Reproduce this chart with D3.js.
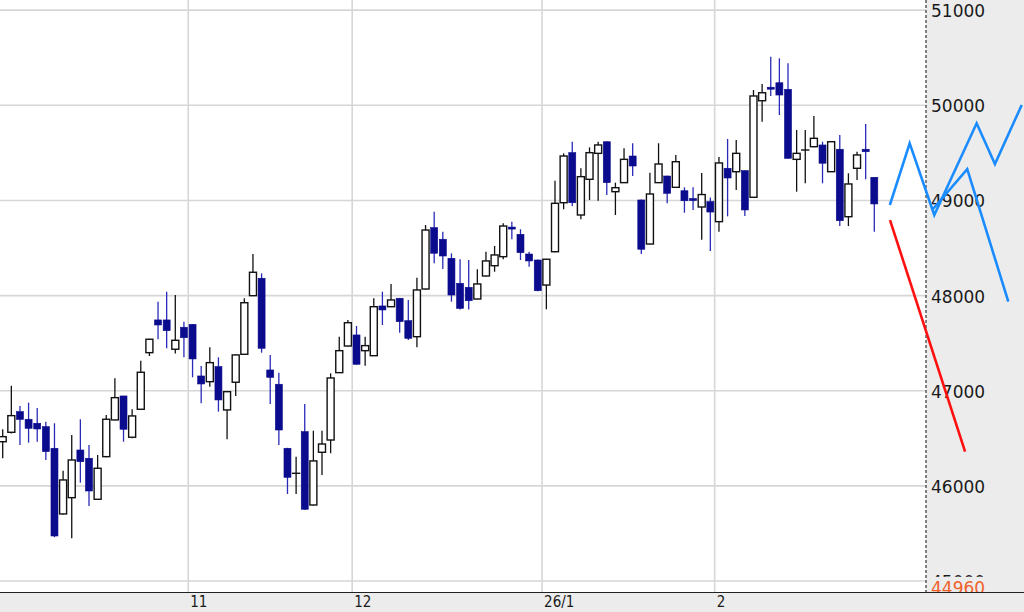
<!DOCTYPE html>
<html><head><meta charset="utf-8">
<script src="https://cdn.jsdelivr.net/npm/d3@7"></script>
<style>html,body{margin:0;padding:0;background:#fff;}svg{display:block;}</style>
</head><body>
<svg id="chart" width="1024" height="612"></svg>
<script>
// OHLC values, one per trading day (index 0..101)
const opens  = [46464,46563,46780,46700,46658,46622,46395,45705,45876,46377,46290,45859,46307,46693,46945,46511,46805,47400,47744,47744,
47436,47667,47698,47155,47095,47253,46798,47089,47383,47999,48182,47218,47068,46395,46132,46570,45799,46353,46482,47190,
47470,47586,47421,47368,47891,47883,47972,47736,47568,48069,48714,48592,48392,48129,48087,47964,48206,48314,48409,48720,
48644,48437,48374,48111,48461,48976,49502,48847,49222,49495,49617,49092,49187,49467,49005,48542,49187,49257,49138,49102,
49020,48931,48987,48777,49338,49302,49313,49033,50048,50190,50237,50168,49432,49530,49565,49583,49302,49538,48829,49338,
49538,49243];
const highs  = [46595,47053,46840,46874,46819,46675,46658,46160,46535,46700,46430,46325,46745,47131,46945,46805,47316,47545,47936,48041,
48006,47726,47700,47260,47457,47351,46995,47380,47972,48437,48234,47376,47190,46400,46307,46861,46580,46580,47183,47568,
47743,47680,47568,47972,48041,48122,47975,47954,48188,48742,48882,48672,48444,48381,48374,48276,48461,48521,48760,48777,
48697,48461,48380,48385,49208,49495,49617,49338,49558,49617,49620,49187,49548,49601,49010,49292,49601,49260,49478,49138,
49138,49288,49031,49457,49646,49635,49315,50161,50224,50511,50494,50441,49740,49740,49888,49617,49620,49688,49285,49512,
49804,49245];
const lows   = [46290,46550,46430,46454,46464,46272,45460,45700,45449,46034,45789,45855,46300,46690,46464,46500,46800,47365,47541,47446,
47391,47351,47141,46868,47042,46780,46490,46945,47380,47995,47400,46861,46430,45915,45915,45750,45795,46114,46343,47185,
47465,47275,47263,47365,47691,47880,47610,47533,47457,48065,48339,48279,47936,47855,47855,47960,48200,48251,48381,48592,
48374,48304,48045,47856,48455,48907,48942,48802,49005,48997,49057,48847,49185,49257,48437,48540,49185,48970,49135,48871,
48900,48587,48469,48672,48833,49110,48837,49030,49828,50098,49898,49440,49092,49180,49560,49180,49300,48731,48731,49215,
49222,48671];
const closes = [46517,46738,46698,46605,46598,46360,45473,46062,46272,46254,45946,46185,46700,46927,46595,46735,47194,47541,47691,47631,
47530,47557,47334,47071,47295,46903,46990,47376,47925,48245,47446,47141,46587,46090,46132,45754,46262,46440,47134,47421,
47715,47278,47474,47883,47849,47954,47726,47551,48059,48689,48445,48416,48006,47866,47946,48122,48364,48427,48731,48700,
48451,48364,48051,48382,48970,49467,48976,49250,49502,49583,49187,49134,49432,49362,48487,49068,49383,49075,49407,48997,
49000,49062,48878,49394,49236,49495,48900,50098,50132,50170,50108,49443,49495,49530,49653,49391,49617,48787,49173,49478,
49512,48963];

// x-axis: index of the first trading day of each month and its label
const monthStartIdx = [22, 41, 63, 83];
const monthLabels   = ["11", "12", "26/1", "2"];

// y-axis ticks and current price marker
const yTicks = [45000, 46000, 47000, 48000, 49000, 50000, 51000];
const lastPrice = 44960;

// forecast paths (day index, price)
const blueAIdx   = [102.8, 105.1, 107.95, 112.86, 114.98, 118.08];
const blueAPrice = [48952, 49601, 48847, 49811, 49383, 50003];
const blueBIdx   = [107.8, 111.77, 116.53];
const blueBPrice = [48910, 49330, 47936];
const redIdx     = [102.82, 111.52];
const redPrice   = [48794, 46360];

const W = 1024, H = 612;
const plotRight = 926, plotBottom = 592;
const svg = d3.select("#chart");

const x = d3.scaleLinear().domain([0, 101]).range([2.7, 874.3]);
const y = d3.scaleLinear().domain([45000, 50000]).range([581, 105.3]);
const step = x(1) - x(0);
const boundary = d => x(d) - step / 2;

// panels
svg.append("rect").attr("x", 0).attr("y", 0).attr("width", W).attr("height", H).attr("fill", "#fff");
svg.append("rect").attr("x", plotRight).attr("y", 0).attr("width", W - plotRight).attr("height", plotBottom).attr("fill", "#ececec");
svg.append("rect").attr("x", 0).attr("y", plotBottom).attr("width", W).attr("height", H - plotBottom).attr("fill", "#ececec");

const defs = svg.append("defs");
defs.append("clipPath").attr("id", "plotclip")
  .append("rect").attr("x", 0).attr("y", 0).attr("width", plotRight).attr("height", plotBottom);
defs.append("clipPath").attr("id", "axisclip")
  .append("rect").attr("x", plotRight).attr("y", 0).attr("width", W - plotRight).attr("height", plotBottom);
defs.append("clipPath").attr("id", "allclip")
  .append("rect").attr("x", 0).attr("y", 0).attr("width", W).attr("height", plotBottom);

const plot = svg.append("g").attr("clip-path", "url(#plotclip)");

// grid
plot.selectAll("line.hg").data(yTicks).enter().append("line")
  .attr("x1", 0).attr("x2", plotRight)
  .attr("y1", d => y(d)).attr("y2", d => y(d))
  .attr("stroke", "#d6d6d6").attr("stroke-width", 1.6);
plot.selectAll("line.vg").data(monthStartIdx).enter().append("line")
  .attr("x1", boundary).attr("x2", boundary)
  .attr("y1", 0).attr("y2", plotBottom)
  .attr("stroke", "#d6d6d6").attr("stroke-width", 1.6);

// candles
const data = opens.map((o, i) => ({i, o, h: highs[i], l: lows[i], c: closes[i]}));
const up = d => d.c >= d.o;
const bodyW = 7;
const blueBody = "#0b0b8e", blueWick = "#2a2ab8";

const cg = plot.selectAll("g.candle").data(data).enter().append("g");
cg.append("line")
  .attr("x1", d => x(d.i)).attr("x2", d => x(d.i))
  .attr("y1", d => y(d.h)).attr("y2", d => y(d.l))
  .attr("stroke", d => up(d) ? "#111" : blueWick)
  .attr("stroke-width", 1.3);
cg.append("rect")
  .attr("x", d => x(d.i) - bodyW / 2)
  .attr("width", bodyW)
  .attr("y", d => y(Math.max(d.o, d.c)))
  .attr("height", d => Math.max(Math.abs(y(d.o) - y(d.c)), up(d) ? 0.01 : 2))
  .attr("fill", d => up(d) ? "#fff" : blueBody)
  .attr("stroke", d => up(d) ? "#111" : blueBody)
  .attr("stroke-width", d => up(d) ? 1.4 : 0.6);

// separator
svg.append("line").attr("x1", plotRight).attr("x2", plotRight).attr("y1", 0).attr("y2", plotBottom)
  .attr("stroke", "#444").attr("stroke-width", 1.3).attr("stroke-dasharray", "3,2");
svg.append("line").attr("x1", 0).attr("x2", W).attr("y1", plotBottom + 0.5).attr("y2", plotBottom + 0.5)
  .attr("stroke", "#222").attr("stroke-width", 1.2);

// right axis labels
const axg = svg.append("g").attr("clip-path", "url(#axisclip)");
const yAxis = d3.axisRight(y).tickValues(yTicks).tickFormat(d3.format("d")).tickSize(0).tickPadding(0);
const ya = axg.append("g").attr("transform", `translate(${plotRight + 5},1)`).call(yAxis);
ya.select(".domain").remove();
ya.selectAll("text").attr("font-family", "DejaVu Sans").attr("font-size", 17).attr("fill", "#1a1a1a").attr("x", 0);
axg.append("rect").attr("x", plotRight + 1).attr("y", y(lastPrice) - 8).attr("width", W - plotRight).attr("height", 22).attr("fill", "#ececec");
axg.append("text").attr("x", plotRight + 5).attr("y", y(lastPrice) + 4).attr("dy", "0.32em")
  .attr("font-family", "DejaVu Sans").attr("font-size", 17).attr("fill", "#f0602a").text(lastPrice);

// bottom axis labels
const xa = svg.append("g");
xa.selectAll("text").data(monthStartIdx).enter().append("text")
  .attr("x", d => boundary(d) + 2)
  .attr("y", 607)
  .attr("font-family", "DejaVu Sans Condensed, DejaVu Sans")
  .attr("font-stretch", "condensed")
  .attr("font-size", 15).attr("fill", "#1a1a1a")
  .text((d, k) => monthLabels[k]);

// forecast lines
const fg = svg.append("g").attr("clip-path", "url(#allclip)");
const line = d3.line().x(p => x(p[0])).y(p => y(p[1]));
const blueC = "#1a8cff";
fg.append("path").attr("d", line(blueAIdx.map((v, k) => [v, blueAPrice[k]])))
  .attr("fill", "none").attr("stroke", blueC).attr("stroke-width", 2.6);
fg.append("path").attr("d", line(blueBIdx.map((v, k) => [v, blueBPrice[k]])))
  .attr("fill", "none").attr("stroke", blueC).attr("stroke-width", 2.6);
fg.append("path").attr("d", line(redIdx.map((v, k) => [v, redPrice[k]])))
  .attr("fill", "none").attr("stroke", "#ff1010").attr("stroke-width", 2.6);
</script>
</body></html>
